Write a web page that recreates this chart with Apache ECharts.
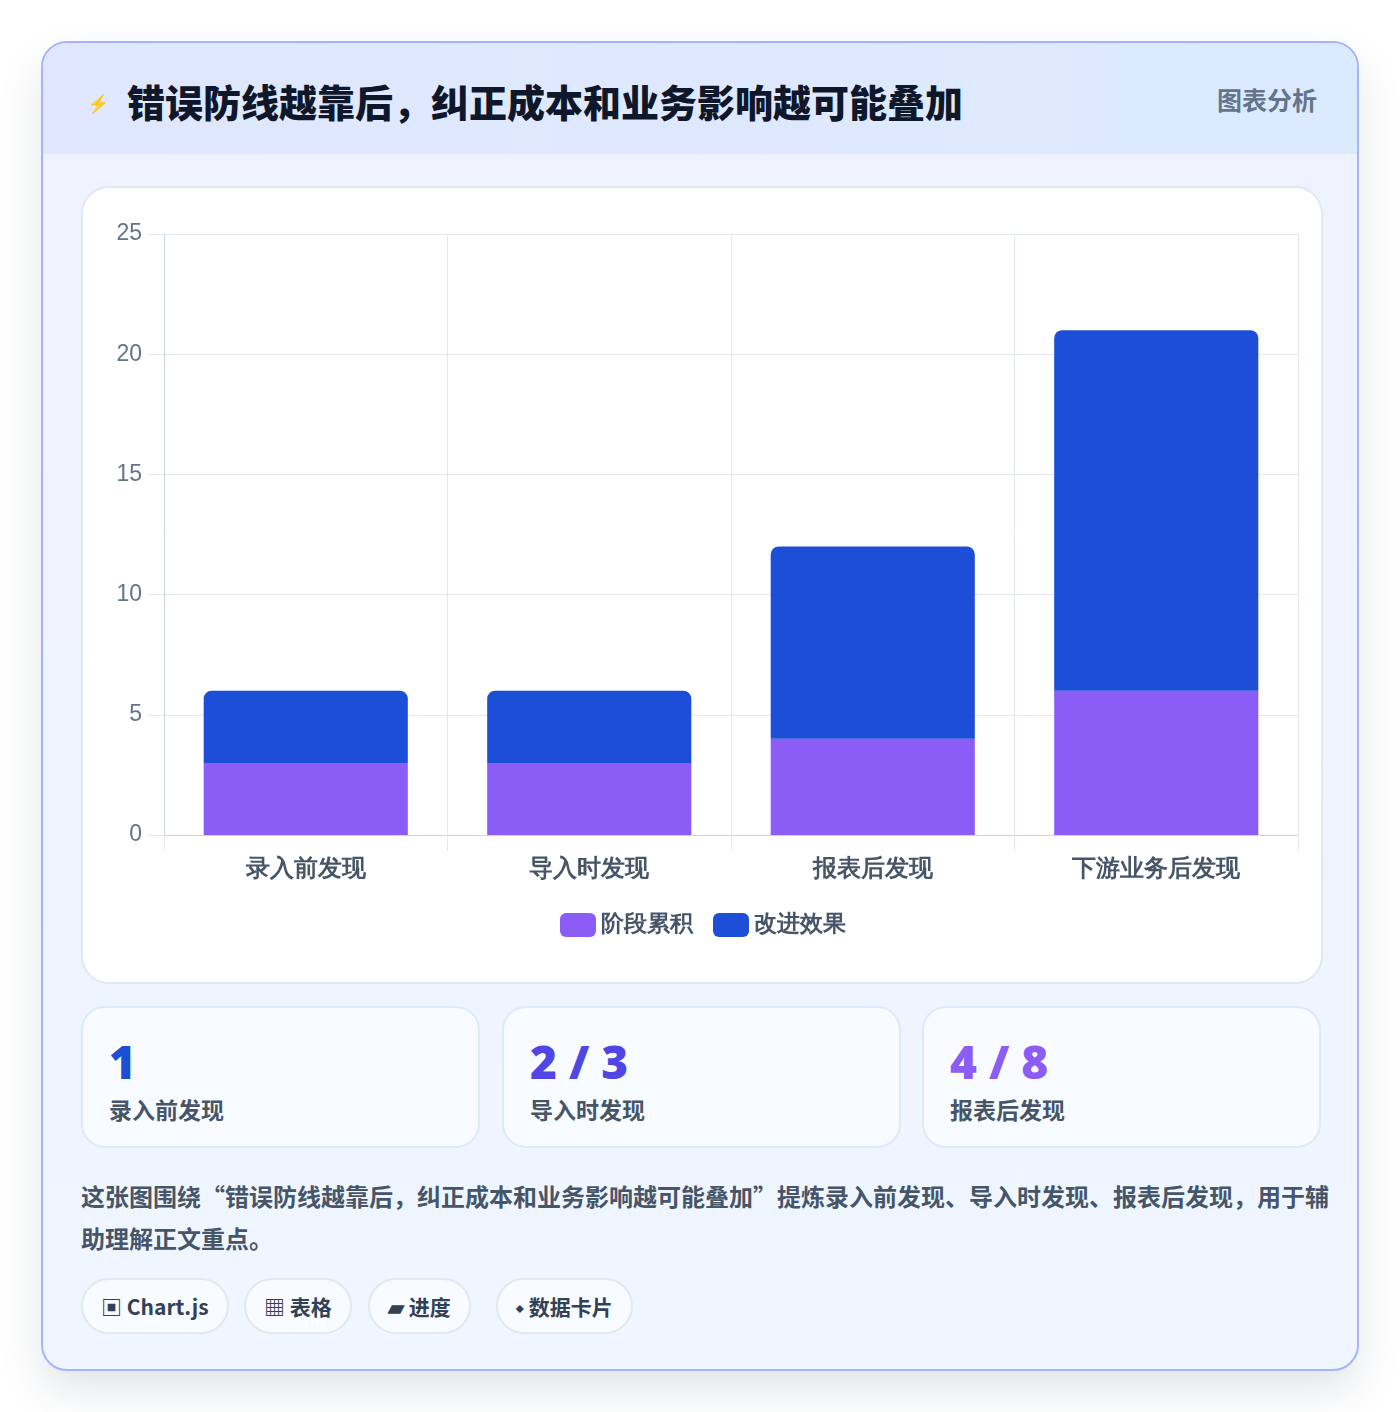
<!DOCTYPE html>
<html><head><meta charset="utf-8">
<script src="https://cdn.jsdelivr.net/npm/echarts@6/dist/echarts.min.js"></script>
<style>
*{box-sizing:border-box;margin:0;padding:0}
body{width:1400px;height:1412px;background:#fff;font-family:"Noto Sans CJK SC","Noto Sans",sans-serif;position:relative;overflow:hidden}
.card{position:absolute;left:41px;top:41px;width:1318px;height:1330px;border:2px solid #a5b4fc;border-radius:26px;background:linear-gradient(180deg,#eef2ff,#eff6ff);box-shadow:0 20px 40px rgba(100,116,139,0.18);overflow:hidden}
.head{position:absolute;left:0;top:0;width:100%;height:111px;background:linear-gradient(90deg,#e0e7ff,#dbeafe)}
.icon{position:absolute;left:44px;top:46px;color:#2563eb;font-size:18px}
.title{position:absolute;left:84px;top:30px;font-size:38px;font-weight:900;color:#0f172a}
.tag{position:absolute;right:40px;top:38px;font-size:25px;font-weight:700;color:#64748b}
.panel{position:absolute;left:38px;top:143px;width:1242px;height:798px;background:#fff;border:2px solid #e2e8f0;border-radius:28px}
#chart{position:absolute;left:0;top:0;width:1240px;height:796px}
.stat{position:absolute;top:963px;width:399px;height:142px;background:#f8fbff;border:2px solid #dbeafe;border-radius:24px}
.num{position:absolute;left:26px;top:22px;font-size:46px;font-weight:900;font-family:"Open Sans","Noto Sans",sans-serif}
.lab{position:absolute;left:26px;top:84px;font-size:23px;font-weight:700;color:#475569}
.para{position:absolute;left:38px;top:1132px;width:1250px;font-size:24px;font-weight:700;color:#475569;line-height:42px}
.pill{position:absolute;top:1235px;height:56px;background:#f8fbff;border:2px solid #e2e8f0;border-radius:28px;font-size:21px;font-weight:700;color:#334155;line-height:52px;padding:0 18px}
</style></head><body>
<div class="card">
 <div class="head"><div class="icon">⚡</div><div class="title">错误防线越靠后，纠正成本和业务影响越可能叠加</div><div class="tag">图表分析</div></div>
 <div class="panel"><div id="chart"></div></div>
 <div class="stat" style="left:38px"><div class="num" style="color:#1d4ed8">1</div><div class="lab">录入前发现</div></div>
 <div class="stat" style="left:459px"><div class="num" style="color:#4f46e5">2 / 3</div><div class="lab">导入时发现</div></div>
 <div class="stat" style="left:879px"><div class="num" style="color:#8b5cf6">4 / 8</div><div class="lab">报表后发现</div></div>
 <div class="para">这张图围绕“错误防线越靠后，纠正成本和业务影响越可能叠加”提炼录入前发现、导入时发现、报表后发现，用于辅助理解正文重点。</div>
 <div class="pill" style="left:38px">▣ Chart.js</div>
 <div class="pill" style="left:201px">▦ 表格</div>
 <div class="pill" style="left:325px">▰ 进度</div>
 <div class="pill" style="left:453px">⬩ 数据卡片</div>
</div>
<script>
const categories=["录入前发现","导入时发现","报表后发现","下游业务后发现"];
const stageValues=[3,3,4,6];
const improveValues=[3,3,8,15];
const yTicks=[0,5,10,15,20,25];
const c=echarts.init(document.getElementById('chart'));
c.setOption({
 animation:false,
 grid:{left:81,right:25,top:46,bottom:149,containLabel:false},
 legend:{bottom:42,itemWidth:36,itemHeight:24,itemGap:20,textStyle:{fontSize:23,fontWeight:'bold',color:'#475569'},data:['阶段累积','改进效果']},
 xAxis:{type:'category',data:categories,axisLine:{lineStyle:{color:'#cbd5e1'}},axisTick:{show:true,length:16,lineStyle:{color:'#e2e8f0'}},
  splitLine:{show:true,lineStyle:{color:'#e2e8f0'}},axisLabel:{fontSize:24,fontWeight:'bold',color:'#475569',margin:22}},
 yAxis:{type:'value',min:yTicks[0],max:yTicks[yTicks.length-1],interval:5,axisLine:{show:true,lineStyle:{color:'#cbd5e1'}},axisTick:{show:true,length:16,lineStyle:{color:'#e2e8f0'}},
  splitLine:{lineStyle:{color:'#e2e8f0'}},axisLabel:{fontSize:23,color:'#64748b',margin:22}},
 series:[
  {name:'阶段累积',type:'bar',stack:'a',data:stageValues,barWidth:'72%',itemStyle:{color:'#8b5cf6'}},
  {name:'改进效果',type:'bar',stack:'a',data:improveValues,barWidth:'72%',itemStyle:{color:'#1d4ed8',borderRadius:[8,8,0,0]}}
 ]
});
</script>
</body></html>
